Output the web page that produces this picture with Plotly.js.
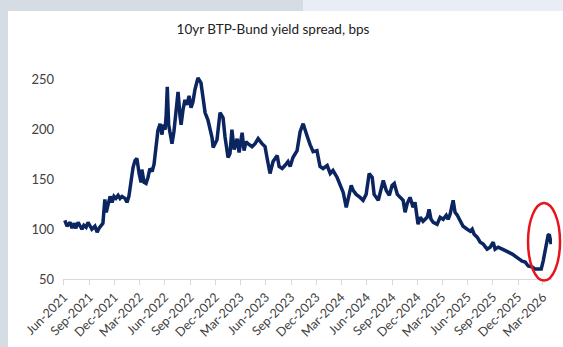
<!DOCTYPE html>
<html><head><meta charset="utf-8">
<script src="https://cdn.plot.ly/plotly-3.0.1.min.js"></script>
<style>
html,body{margin:0;padding:0;width:563px;height:347px;overflow:hidden;background:#d5dce4;}
#band{position:absolute;left:303px;top:0;width:260px;height:11px;background:#e9eef6;}
#chart{position:absolute;left:8px;top:11px;width:555px;height:336px;background:#fff;}
</style></head>
<body><div id="band"></div><div id="chart"></div>
<script>
const dates = [
"2021-06-04","2021-06-12","2021-06-23","2021-06-30","2021-07-07","2021-07-14","2021-07-22","2021-07-29","2021-08-05","2021-08-12","2021-08-20","2021-08-27","2021-09-03","2021-09-10","2021-09-21","2021-09-29","2021-10-06","2021-10-13","2021-10-20","2021-10-27","2021-11-01","2021-11-07","2021-11-15","2021-11-22","2021-11-29","2021-12-06","2021-12-14","2021-12-21","2021-12-28",
"2022-01-08","2022-01-15","2022-01-22","2022-01-30","2022-02-06","2022-02-13","2022-02-20","2022-02-28","2022-03-07","2022-03-10","2022-03-18","2022-03-25","2022-04-01","2022-04-08","2022-04-16","2022-04-23","2022-04-30","2022-05-07","2022-05-15","2022-05-22","2022-05-26","2022-06-02","2022-06-06","2022-06-10","2022-06-15","2022-06-23","2022-06-27","2022-07-04","2022-07-11","2022-07-19","2022-07-26","2022-07-30","2022-08-06","2022-08-13","2022-08-20","2022-08-28","2022-09-04","2022-09-11","2022-09-18","2022-09-26","2022-09-29","2022-10-10","2022-10-17","2022-10-25","2022-11-04","2022-11-19","2022-11-23","2022-11-30","2022-12-07","2022-12-18","2022-12-29",
"2023-01-05","2023-01-16","2023-01-23","2023-01-30","2023-02-07","2023-02-18","2023-02-25","2023-03-08","2023-03-15","2023-03-22","2023-03-29","2023-04-13","2023-04-24","2023-05-05","2023-05-19","2023-05-30","2023-06-06","2023-06-17","2023-06-28","2023-07-13","2023-07-20","2023-07-31","2023-08-10","2023-08-21","2023-08-29","2023-09-08","2023-09-23","2023-10-04","2023-10-15","2023-10-22","2023-10-29","2023-11-09","2023-11-20","2023-12-04","2023-12-15","2023-12-26",
"2024-01-10","2024-01-21","2024-01-31","2024-02-15","2024-02-26","2024-03-08","2024-03-19","2024-03-26","2024-04-06","2024-04-13","2024-04-24","2024-05-08","2024-05-19","2024-05-30","2024-06-10","2024-06-21","2024-06-28","2024-07-13","2024-07-20","2024-07-31","2024-08-11","2024-08-22","2024-09-01","2024-09-09","2024-09-20","2024-09-30","2024-10-11","2024-10-18","2024-10-26","2024-11-05","2024-11-16","2024-11-23","2024-12-04","2024-12-12","2024-12-22",
"2025-01-06","2025-01-13","2025-01-20","2025-01-28","2025-02-11","2025-02-22","2025-03-05","2025-03-16","2025-03-23","2025-03-30","2025-04-10","2025-04-17","2025-04-25","2025-05-05","2025-05-16","2025-05-31","2025-06-11","2025-06-18","2025-06-25","2025-07-06","2025-07-17","2025-07-28","2025-08-11","2025-08-22","2025-09-02","2025-09-09","2025-09-20","2025-10-05","2025-10-16","2025-10-27","2025-11-10","2025-11-21","2025-12-02","2025-12-16","2025-12-27",
"2026-01-07","2026-01-22","2026-02-01","2026-02-12","2026-02-23","2026-03-02","2026-03-06","2026-03-13","2026-03-20","2026-03-24","2026-03-31"];

const spread = [
109,103,107,101,106,101,107,104,100,104,102,107,103,100,103,97,101,103,106,130,117,124,133,127,133,131,134,131,133,
131,127,133,149,162,169,171,156,147,160,147,146,152,161,158,165,182,199,206,195,205,200,215,243,205,190,186,198,215,238,214,205,220,230,225,234,222,228,240,248,252,247,230,217,210,192,182,187,190,217,212,
193,172,176,200,180,191,177,197,179,188,186,183,186,191,186,183,172,156,168,174,163,161,164,168,163,172,179,198,206,201,194,185,178,179,163,161,
164,156,159,152,144,137,122,132,144,139,135,132,129,135,156,152,135,129,137,149,139,134,144,146,135,132,129,117,126,132,122,127,105,112,108,
112,120,110,107,105,112,110,114,110,115,129,117,114,108,103,100,98,100,95,92,87,85,80,82,87,80,82,80,78,77,75,73,70,68,67,
63,62,60,60,60,68,75,82,94,95,85];

const tickDates = ["2021-06-01","2021-09-01","2021-12-01","2022-03-01","2022-06-01","2022-09-01","2022-12-01","2023-03-01","2023-06-01","2023-09-01","2023-12-01","2024-03-01","2024-06-01","2024-09-01","2024-12-01","2025-03-01","2025-06-01","2025-09-01","2025-12-01","2026-03-01"];
const tickLabels = ["Jun-2021","Sep-2021","Dec-2021","Mar-2022","Jun-2022","Sep-2022","Dec-2022","Mar-2023","Jun-2023","Sep-2023","Dec-2023","Mar-2024","Jun-2024","Sep-2024","Dec-2024","Mar-2025","Jun-2025","Sep-2025","Dec-2025","Mar-2026"];
const yTicks = [50,100,150,200,250];
const chartTitle = "10yr BTP-Bund yield spread, bps";

const FONT = "Lato, 'Open Sans', sans-serif";

Plotly.newPlot('chart', [{
  x: dates, y: spread, type: 'scatter', mode: 'lines',
  line: {color: '#0b2561', width: 3.5}, hoverinfo: 'skip'
}], {
  width: 555, height: 336,
  margin: {l: 55, r: 11, t: 54, b: 68, pad: 0},
  paper_bgcolor: '#ffffff', plot_bgcolor: '#ffffff',
  showlegend: false,
  font: {family: FONT, color: '#333333'},
  title: {text: chartTitle, font: {family: FONT, size: 13.5, color: '#222222'},
          xref: 'container', yref: 'container', x: 0.4775, y: 0.946, xanchor: 'center', yanchor: 'middle'},
  xaxis: {
    type: 'date', range: ['2021-05-28 10:00', '2026-04-03'],
    tickmode: 'array', tickvals: tickDates, ticktext: tickLabels, tickangle: -45,
    showline: true, linecolor: '#d9d9d9', linewidth: 1,
    ticks: 'outside', ticklen: 5, tickcolor: '#d9d9d9', tickwidth: 1,
    showgrid: false, zeroline: false,
    tickfont: {family: FONT, size: 12.5, color: '#404040'}
  },
  yaxis: {
    range: [50, 265], tickmode: 'array', tickvals: yTicks,
    showgrid: false, zeroline: false, showline: false, ticks: '',
    ticklabelstandoff: 8,
    tickfont: {family: FONT, size: 13, color: '#404040'}
  },
  shapes: [{
    type: 'circle', xref: 'paper', yref: 'paper',
    x0: 0.951, x1: 1.0164, y0: -0.007, y1: 0.355,
    line: {color: '#e8141c', width: 2.5}, fillcolor: 'rgba(0,0,0,0)'
  }]
}, {staticPlot: true, displayModeBar: false});
</script></body></html>
